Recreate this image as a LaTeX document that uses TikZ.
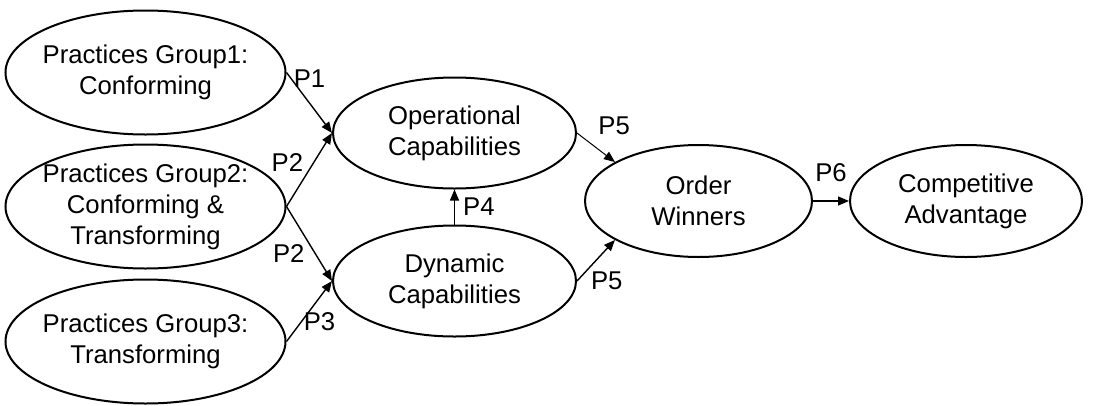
\documentclass[tikz,border=0pt]{standalone}
\usepackage{fontspec}
\setmainfont{Liberation Sans}
\usetikzlibrary{shapes.geometric,arrows.meta}
\begin{document}
\begin{tikzpicture}[x=1pt,y=-1pt,
  construct/.style={ellipse,draw,line width=2pt,inner sep=-12pt,align=center,
    font=\fontsize{25.7}{31}\selectfont},
  group/.style={construct,minimum width=280pt,minimum height=124pt},
  capab/.style={construct,minimum width=243pt,minimum height=111pt},
  link/.style={-{Triangle[length=11pt,width=9pt]},line width=1.4pt},
  plabel/.style={font=\fontsize{25.7}{31}\selectfont,inner sep=2pt}]
\useasboundingbox (0,0) rectangle (1120,405);
\node[group]
(g1) at (145.5,72.5) {Practices Group1:\\Conforming};
\node[group]
(g2) at (145.5,206.5) {Practices Group2:\\Conforming \&\\Transforming};
\node[group]
(g3) at (145.5,341.5) {Practices Group3:\\Transforming};
\node[capab]
(opcap) at (454.5,133) {Operational\\Capabilities};
\node[capab]
(dyncap) at (454.5,281) {Dynamic\\Capabilities};
\node[construct,minimum width=227pt,minimum height=112pt]
(ow) at (698.5,201) {Order\\Winners};
\node[construct,minimum width=232pt,minimum height=112pt]
(ca) at (966,201) {Competitive\\Advantage};
\draw[link](g1.east) -- (opcap.west) node[plabel,pos=0.1,right] {P1};
\draw[link](g2.east) -- (opcap.west) node[plabel,pos=0.6,left=8pt] {P2};
\draw[link](g2.east) -- (dyncap.west) node[plabel,pos=0.63,left=8pt] {P2};
\draw[link](g3.east) -- (dyncap.west) node[plabel,pos=0.32,right] {P3};
\draw[link](dyncap.north) -- (opcap.south) node[plabel,midway,right=6pt] {P4};
\draw[link,line width=1pt](opcap.east) -- (ow.155) node[plabel,pos=0.5,above right,yshift=10pt] {P5};
\draw[link](dyncap.east) -- (ow.205) node[plabel,pos=0.3,below right] {P5};
\draw[link](ow.east) -- (ca.west) node[plabel,midway,above=17pt] {P6};
\end{tikzpicture}
\end{document}
